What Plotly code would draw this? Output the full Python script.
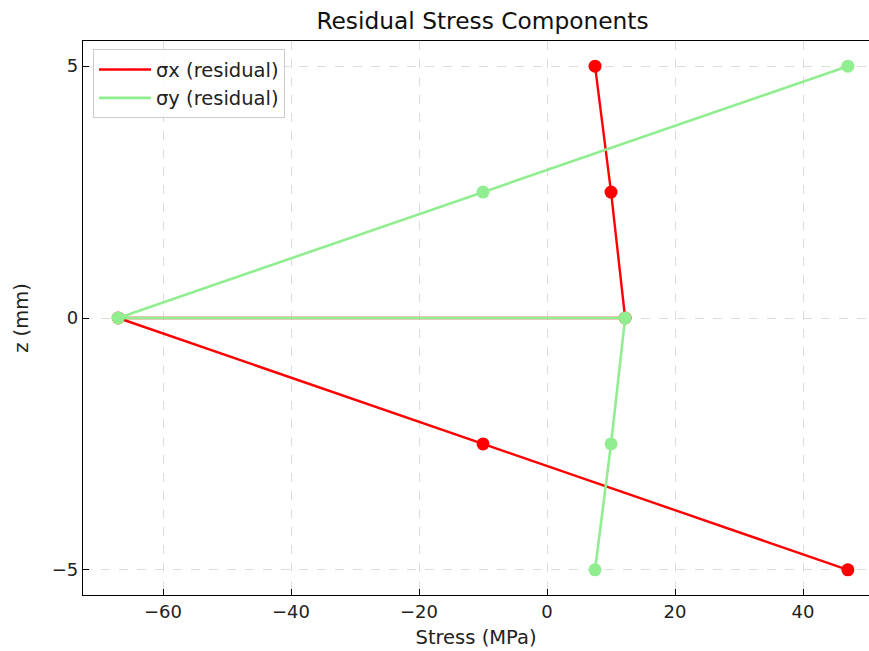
import plotly.graph_objects as go

z_mm = [5, 2.5, 0, 0, -2.5, -5]
sigma_x = [7.5, 10.0, 12.2, -67.0, -10.0, 47.0]
sigma_y = [47.0, -10.0, -67.0, 12.2, 10.0, 7.5]
x_ticks = [-60, -40, -20, 0, 20, 40]
y_ticks = [-5, 0, 5]

RED = "#ff0000"
GREEN = "#90ee90"
FONT = "DejaVu Sans"
FS = 18
FL = 19.5

fig = go.Figure()
for name, vals, col, lw in [("σx (residual)", sigma_x, RED, 2.4), ("σy (residual)", sigma_y, GREEN, 2.6)]:
    fig.add_trace(go.Scatter(x=vals, y=z_mm, mode="lines", name=name,
                             line=dict(color=col, width=lw)))
    fig.add_trace(go.Scatter(x=vals, y=z_mm, mode="markers", showlegend=False,
                             marker=dict(color=col, size=13, line=dict(width=0)),
                             hoverinfo="skip"))

axis_common = dict(showline=True, linecolor="black", linewidth=1.2,
                   ticks="inside", ticklen=6, tickwidth=1.2, tickcolor="black",
                   showgrid=True, gridcolor="#dcdcdc", griddash="dash", gridwidth=1,
                   zeroline=False, tickfont=dict(family=FONT, size=FS, color="#222"))

fig.update_xaxes(range=[-72.5, 50.3], tickvals=x_ticks, mirror=True,
                 ticktext=[str(v).replace("-", "−") for v in x_ticks],
                 title=dict(text="Stress (MPa)", font=dict(family=FONT, size=FL, color="#222"), standoff=9),
                 **axis_common)
fig.update_yaxes(range=[-5.5, 5.5], tickvals=y_ticks, mirror=False,
                 ticktext=[str(v).replace("-", "−") for v in y_ticks],
                 title=dict(text="z (mm)", font=dict(family=FONT, size=FL, color="#222"), standoff=17),
                 **axis_common)

fig.update_layout(
    width=869, height=651,
    margin=dict(l=83, r=0, t=41, b=56, pad=0),
    paper_bgcolor="white", plot_bgcolor="white",
    title=dict(text="Residual Stress Components", xref="container", x=0.5552, xanchor="center",
               yref="container", y=0.968, yanchor="middle",
               font=dict(family=FONT, size=23.3, color="#111")),
    legend=dict(x=0.0127, y=0.985, xanchor="left", yanchor="top",
                bordercolor="#cccccc", borderwidth=1, bgcolor="rgba(255,255,255,0.8)",
                font=dict(family=FONT, size=FL, color="#222"), itemwidth=52,
                tracegroupgap=2),
    showlegend=True,
)

fig.write_html("out.html", config={"displayModeBar": False},
               post_script="document.body.style.margin='0';document.body.style.overflow='hidden';")
